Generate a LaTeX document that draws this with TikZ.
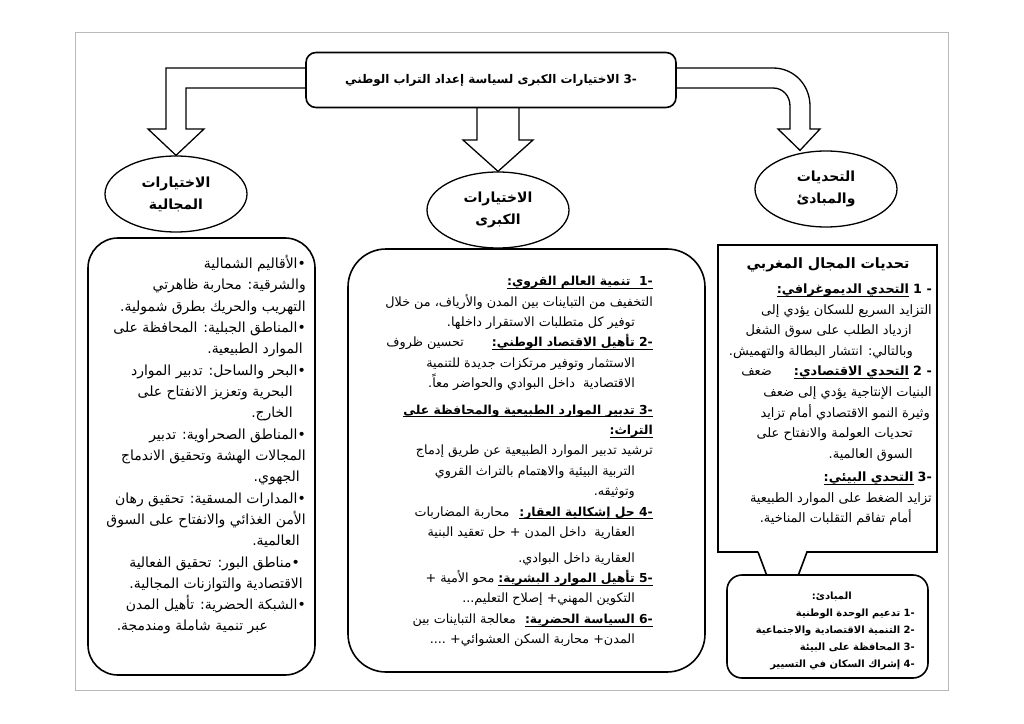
\documentclass[tikz,border=0pt]{standalone}
\usepackage{fontspec}
\newfontfamily\arabicfont[Script=Arabic]{DejaVu Sans}
\TeXXeTstate=1
\usetikzlibrary{shapes.geometric}
\newcommand\RL[1]{\beginR#1\endR}
\newcommand\ulR[1]{\setbox0\hbox{\beginR#1\endR}\hbox{\rlap{\rule[-3bp]{\wd0}{0.8bp}}\box0}}
\newcommand\hd{\bfseries\fontsize{12.4}{20}\selectfont}
\newcommand\chd{\bfseries\fontsize{12.8}{20}\selectfont}
\tikzset{
  boxline/.style={line width=1.6bp},
  bigarrow/.style={draw, line width=1.3bp, fill=white, line join=miter},
  oval/.style={ellipse, draw, line width=1.3bp, minimum width=142bp, minimum height=76bp,
    align=center, inner sep=0pt, font=\arabicfont\bfseries\fontsize{14}{22}\selectfont},
  txt/.style={inner sep=0pt, align=right, font=\arabicfont\fontsize{14}{21.4}\selectfont},
}
\begin{document}
\begin{tikzpicture}[x=1bp, y=-1bp]
  \useasboundingbox (0,0) rectangle (1024,724);
  \draw[gray!55, line width=0.8bp] (75,32) rectangle (948,690);
  % ovals
  \node[oval] (spatial) at (176,194) {\RL{الاختيارات}\\\RL{المجالية}};
  \node[oval] (major) at (498,210) {\RL{الاختيارات}\\\RL{الكبرى}};
  \node[oval] (challenges) at (826,189) {\RL{التحديات}\\\RL{والمبادئ}};
  % block arrows
  \draw[bigarrow] (312,68) -- (166,68) -- (166,129) -- (148,129) -- (spatial.north)
    -- (204,129) -- (186,129) -- (186,88) -- (312,88) -- cycle;
  \draw[bigarrow] (477,100) -- (477,140) -- (463,140) -- (major.north)
    -- (533,140) -- (519,140) -- (519,100) -- cycle;
  \draw[bigarrow] (670,68) -- (773,68) .. controls (794,68) and (810,85) .. (810,106)
    -- (810,129) -- (820,129) -- ([xshift=-26bp]challenges.north) -- (778,129) -- (790,129)
    -- (790,106) .. controls (790,96) and (783,88) .. (773,88) -- (670,88) -- cycle;
  \node[draw, line width=1.6bp, rounded corners=10bp, fill=white, minimum width=370bp,
    minimum height=55bp, font=\arabicfont\bfseries\fontsize{12}{16}\selectfont]
    (title) at (491,80) {\RL{\hbox{-3} الاختيارات الكبرى لسياسة إعداد التراب الوطني}};
  % boxes
  \draw[boxline, rounded corners=30bp] (88,238) rectangle (315,675);
  \draw[boxline, rounded corners=38bp] (348,249) rectangle (705,672);
  \draw[boxline] (758,552) -- (718,552) -- (718,245) -- (937,245) -- (937,552)
    -- (807,552) -- (798,576);
  \draw[boxline] (758,552) -- (767,576);
  \draw[boxline, rounded corners=15bp, fill=white] (727,575) rectangle (928,678);
  % spatial choices
  \node[txt, anchor=north east] (regionlist) at (306,255) {%
    \RL{\hbox{•}الأقاليم الشمالية}\\
    \RL{والشرقية: محاربة ظاهرتي}\\
    \RL{التهريب والحريك بطرق شمولية.}\\
    \RL{\hbox{•}المناطق الجبلية: المحافظة على}\\
    \RL{الموارد الطبيعية.}\kern3bp\\
    \RL{\hbox{•}البحر والساحل: تدبير الموارد}\\
    \RL{البحرية وتعزيز الانفتاح على}\kern13bp\\
    \RL{الخارج.}\kern13bp\\
    \RL{\hbox{•}المناطق الصحراوية: تدبير}\\
    \RL{المجالات الهشة وتحقيق الاندماج}\\
    \RL{الجهوي.}\kern6bp\\
    \RL{\hbox{•}المدارات المسقية: تحقيق رهان}\\
    \RL{الأمن الغذائي والانفتاح على السوق}\\
    \RL{العالمية.}\kern6bp\\
    \RL{\hbox{•}مناطق البور: تحقيق الفعالية}\kern6bp\\
    \RL{الاقتصادية والتوازنات المجالية.}\kern3bp\\
    \RL{\hbox{•}الشبكة الحضرية: تأهيل المدن}\\
    \makebox[189bp][l]{\RL{عبر تنمية شاملة ومندمجة.}}};
  % major choices
  \node[txt, anchor=north east, font=\arabicfont\fontsize{12.8}{20.5}\selectfont]
    (choicelist) at (653,276) {%
    \RL{\hd\ulR{\hbox{-1}\ \ تنمية العالم القروي:}}\\
    \RL{التخفيف من التباينات بين المدن والأرياف، من خلال}\\
    \RL{توفير كل متطلبات الاستقرار داخلها.}\kern18bp\\
    \RL{\hbox{\hd\ulR{\hbox{-2} تأهيل الاقتصاد الوطني:}}\hskip28bp تحسين ظروف}\\
    \RL{الاستثمار وتوفير مرتكزات جديدة للتنمية}\kern18bp\\
    \RL{الاقتصادية\ \ داخل البوادي والحواضر معاً.}\kern18bp\\[6bp]
    \RL{\hd\ulR{\hbox{-3} تدبير الموارد الطبيعية والمحافظة على}}\\
    \RL{\hd\ulR{التراث:}}\\
    \RL{ترشيد تدبير الموارد الطبيعية عن طريق إدماج}\\
    \RL{التربية البيئية والاهتمام بالتراث القروي}\kern18bp\\
    \RL{وتوثيقه.}\kern18bp\\
    \RL{\hbox{\hd\ulR{\hbox{-4} حل إشكالية العقار:}}\hskip10bp محاربة المضاربات}\\
    \RL{العقارية\ \ داخل المدن + حل تعقيد البنية}\kern18bp\\[5bp]
    \RL{العقارية داخل البوادي.}\kern18bp\\
    \RL{\hbox{\hd\ulR{\hbox{-5} تأهيل الموارد البشرية:}} محو الأمية +}\\
    \RL{التكوين المهني+ إصلاح التعليم...}\kern18bp\\
    \RL{\hbox{\hd\ulR{\hbox{-6} السياسة الحضرية:}}\hskip9bp معالجة التباينات بين}\\
    \RL{المدن+ محاربة السكن العشوائي+ ....}\kern18bp};
  % challenges
  \node[font=\arabicfont\bfseries\fontsize{14.3}{18}\selectfont, inner sep=0pt]
    (challengetitle) at (828,265) {\RL{تحديات المجال المغربي}};
  \node[txt, anchor=north east, font=\arabicfont\fontsize{13}{20.6}\selectfont]
    (challengelist) at (932,284) {%
    \RL{\hbox{\chd - 1}\ \chd\ulR{التحدي الديموغرافي:}}\\
    \RL{التزايد السريع للسكان يؤدي إلى}\\
    \RL{ازدياد الطلب على سوق الشغل}\kern20bp\\
    \RL{وبالتالي: انتشار البطالة والتهميش.}\kern19bp\\
    \RL{\hbox{\chd - 2}\ \hbox{\chd\ulR{التحدي الاقتصادي:}}\hskip22bp ضعف}\\
    \RL{البنيات الإنتاجية يؤدي إلى ضعف}\\
    \RL{وثيرة النمو الاقتصادي أمام تزايد}\kern2bp\\
    \RL{تحديات العولمة والانفتاح على}\kern19bp\\
    \RL{السوق العالمية.}\kern19bp\\[3bp]
    \RL{\hbox{\chd -3}\ \chd\ulR{التحدي البيئي:}}\\
    \RL{تزايد الضغط على الموارد الطبيعية}\\
    \RL{أمام تفاقم التقلبات المناخية.}\kern20bp};
  % principles
  \node[txt, anchor=north east, font=\arabicfont\bfseries\fontsize{10}{17}\selectfont]
    (principles) at (915,592) {%
    \RL{المبادئ:}\kern63bp\\
    \RL{\hbox{-1} تدعيم الوحدة الوطنية}\\
    \RL{\hbox{-2} التنمية الاقتصادية والاجتماعية}\\
    \RL{\hbox{-3} المحافظة على البيئة}\\
    \RL{\hbox{-4} إشراك السكان في التسيير}};
\end{tikzpicture}
\end{document}
